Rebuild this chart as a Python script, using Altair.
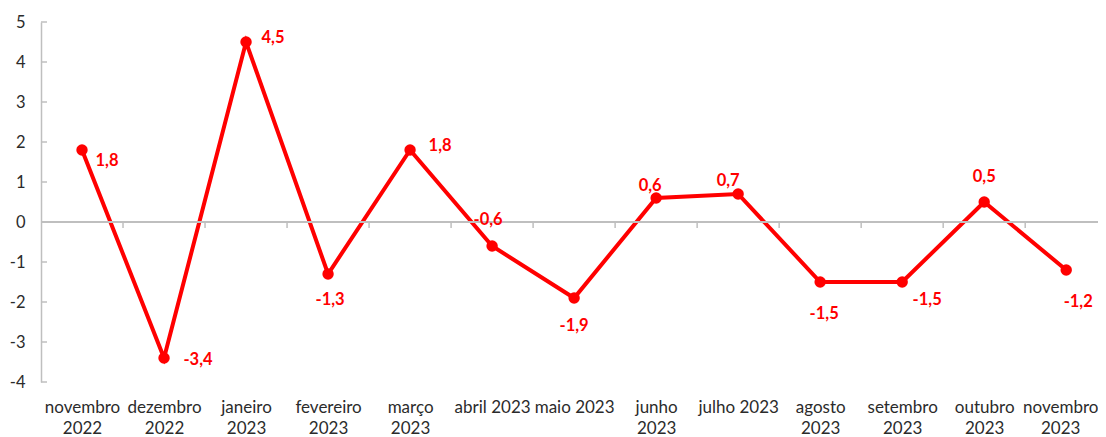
import json
import altair as alt
import pandas as pd

# ---- data ----
MONTHS = ["novembro 2022", "dezembro 2022", "janeiro 2023", "fevereiro 2023",
          "março 2023", "abril 2023", "maio 2023", "junho 2023", "julho 2023",
          "agosto 2023", "setembro 2023", "outubro 2023", "novembro 2023"]
TICK_LABELS = [["novembro", "2022"], ["dezembro", "2022"], ["janeiro", "2023"],
               ["fevereiro", "2023"], ["março", "2023"], ["abril 2023"],
               ["maio 2023"], ["junho", "2023"], ["julho 2023"],
               ["agosto", "2023"], ["setembro", "2023"], ["outubro", "2023"],
               ["novembro", "2023"]]
VALUES = [1.8, -3.4, 4.5, -1.3, 1.8, -0.6, -1.9, 0.6, 0.7, -1.5, -1.5, 0.5, -1.2]
Y_TICKS = [-4, -3, -2, -1, 0, 1, 2, 3, 4, 5]

# ---- style ----
RED = "#FF0000"
GRAY = "#BFBFBF"
TXT = "#2b2b2b"
FONT = "Lato"
W, H = 1049, 360
PAD_R = 8
# label offsets (dx, dy) in pixels for each point
LABEL_OFFSETS = [(25, 11), (34, 2), (27, -4), (2, 26), (30, -4), (-4, -26),
                 (0, 28), (-6, -12), (-10, -13), (4, 32), (25, 18), (0, -25),
                 (12, 32)]

df = pd.DataFrame({
    "idx": list(range(len(MONTHS))),
    "mes": MONTHS,
    "valor": VALUES,
    "rotulo": [f"{v:.1f}".replace(".", ",") for v in VALUES],
})
ticks_df = pd.DataFrame({"v": Y_TICKS})

label_arr = json.dumps(TICK_LABELS, ensure_ascii=False)
last = len(MONTHS) - 1

x_scale = alt.Scale(domain=[-0.5, last + 0.29], nice=False, zero=False)
y_scale = alt.Scale(domain=[-4, 5], nice=False, zero=False)

x_axis = alt.Axis(values=list(range(len(MONTHS))), labelExpr=f"{label_arr}[datum.value]",
                  domain=False, ticks=False, grid=False, title=None,
                  labelFont=FONT, labelFontSize=17, labelColor=TXT,
                  labelPadding=17, labelLineHeight=21, labelBaseline="top",
                  labelOffset={"condition": {"test": f"datum.value == {last}", "value": -6},
                               "value": 0},
                  labelOverlap=False, labelFlush=False, labelBound=False)
y_axis = alt.Axis(values=Y_TICKS, labelExpr="'' + datum.value",
                  domain=True, domainColor=GRAY, domainWidth=1.5,
                  ticks=False, grid=False, title=None,
                  labelFont=FONT, labelFontSize=16.5, labelColor=TXT,
                  labelPadding=16, labelOverlap=False, labelFlush=False,
                  labelBound=False)

x_enc = alt.X("idx:Q", scale=x_scale, axis=x_axis)
y_enc = alt.Y("valor:Q", scale=y_scale, axis=y_axis)

base = alt.Chart(df)

line = base.mark_line(color=RED, strokeWidth=4).encode(x=x_enc, y=y_enc)

zero = base.transform_calculate(z="0").mark_rule(color=GRAY, strokeWidth=1.5).encode(
    x=alt.value(0), x2=alt.value(W + PAD_R), y=alt.Y("z:Q", scale=y_scale, axis=y_axis))

bounds = base.transform_filter(f"datum.idx < {last}").transform_calculate(
    bx="datum.idx + 0.5", b0="0", b1="-0.15"
).mark_rule(color=GRAY, strokeWidth=1.5).encode(
    x=alt.X("bx:Q", scale=x_scale, axis=x_axis),
    y=alt.Y("b0:Q", scale=y_scale, axis=y_axis), y2="b1:Q")

yticks = alt.Chart(ticks_df).mark_rule(color=GRAY, strokeWidth=1.5).encode(
    x=alt.value(0), x2=alt.value(6), y=alt.Y("v:Q", scale=y_scale, axis=y_axis))

points = base.mark_circle(color=RED, size=130, opacity=1).encode(x=x_enc, y=y_enc)

labels = []
for i, (dx, dy) in enumerate(LABEL_OFFSETS):
    labels.append(
        base.transform_filter(f"datum.idx == {i}").mark_text(
            color=RED, font=FONT, fontSize=16.5, fontWeight="bold",
            align="center", baseline="middle", dx=dx, dy=dy
        ).encode(x=x_enc, y=y_enc, text="rotulo:N")
    )

chart = alt.layer(line, zero, bounds, yticks, points, *labels).properties(
    width=W, height=H,
    padding={"left": 33, "top": 14, "right": PAD_R, "bottom": 55},
    autosize=alt.AutoSizeParams(type="none"),
).configure_view(stroke=None)

chart.save("out.html", embed_options={"renderer": "svg", "actions": False})
